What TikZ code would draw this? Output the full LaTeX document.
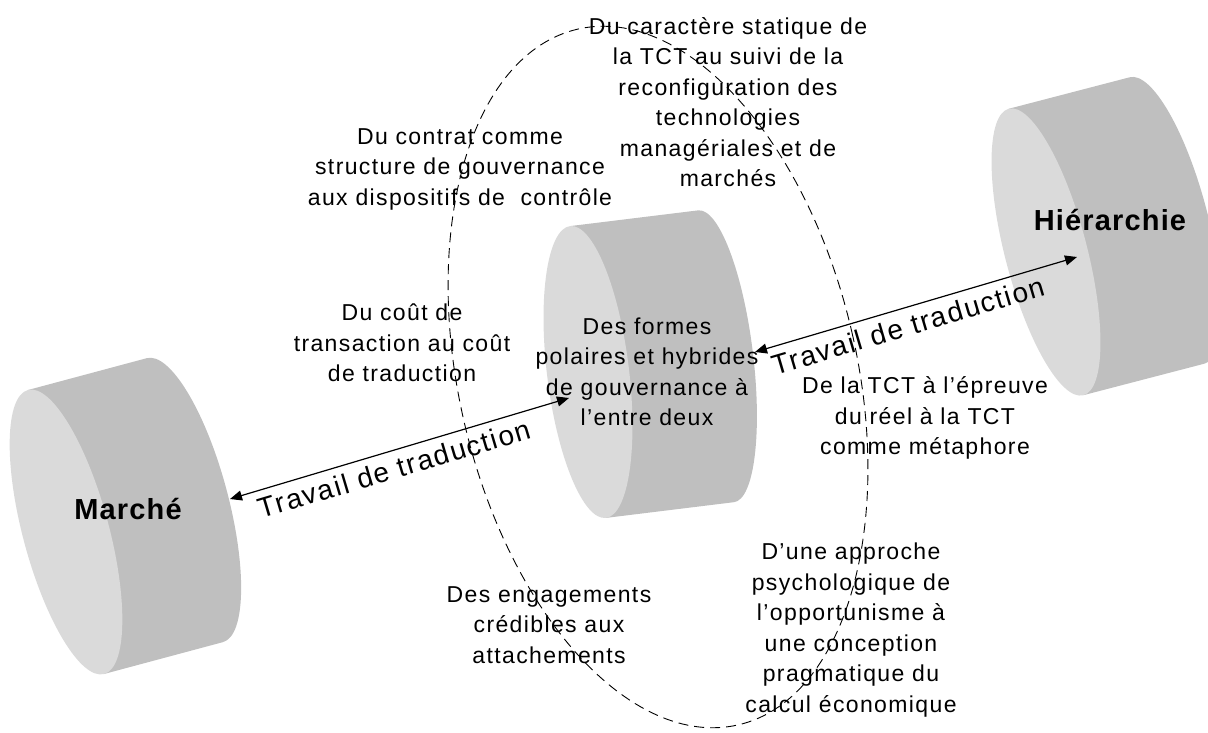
\documentclass[tikz,border=0pt]{standalone}
\usepackage{fontspec}
\setmainfont{Liberation Sans}[LetterSpace=6]
\usetikzlibrary{arrows.meta}
\definecolor{facegray}{RGB}{218,218,218}
\definecolor{bodygray}{RGB}{191,191,191}
\begin{document}
\begin{tikzpicture}[
        x=1pt, y=-1pt,
        body/.style={fill=bodygray, draw=none},
        face/.style={fill=facegray, draw=none},
        txt/.style={align=center, inner sep=0pt, font=\fontsize{23}{30.5}\selectfont},
        pole/.style={inner sep=0pt, font=\bfseries\addfontfeature{LetterSpace=4}\fontsize{29}{34}\selectfont},
        trad/.style={font=\fontsize{28}{32}\selectfont, sloped, below=4pt},
        arr/.style={{Triangle[length=12pt,width=10pt]}-{Triangle[length=12pt,width=10pt]}, line width=1.2pt},
        orbit/.style={dash pattern=on 10pt off 6pt, line width=0.9pt},
    ]
    \useasboundingbox (0,0) rectangle (1208,733);

    \begin{scope}[shift={(66,532)}, rotate=15]
        \fill[body] (0,147) -- (123,147) arc[start angle=90, end angle=-90, x radius=43, y radius=147] -- (0,-147) -- cycle;
        \fill[face] (0,0) ellipse [x radius=43, y radius=147];
    \end{scope}
    \begin{scope}[shift={(588,372)}, rotate=7]
        \fill[body] (0,147) -- (129,147) arc[start angle=90, end angle=-90, x radius=37, y radius=147] -- (0,-147) -- cycle;
        \fill[face] (0,0) ellipse [x radius=41, y radius=147];
    \end{scope}
    \begin{scope}[shift={(1046,252)}, rotate=14.6]
        \fill[body] (0,148) -- (125,148) arc[start angle=90, end angle=-90, x radius=41, y radius=148] -- (0,-148) -- cycle;
        \fill[face] (0,0) ellipse [x radius=41, y radius=148];
    \end{scope}

    \draw[orbit, rotate around={13:(658,377)}] (658,377) ellipse [x radius=199, y radius=357];

    \node[pole] (marche) at (128,509) {Marché};
    \node[pole] (hierarchie) at (1110,220) {Hiérarchie};
    \node[txt] (formes) at (647,372) {Des formes\\polaires et hybrides\\de gouvernance à\\l’entre deux};
    \node[txt] (statique) at (728,102) {Du caractère statique de\\la TCT au suivi de la\\reconfiguration des\\technologies\\managériales et de\\marchés};
    \node[txt] (contrat) at (460,169) {Du contrat comme\\structure de gouvernance\\aux dispositifs de\ \ contrôle};
    \node[txt] (cout) at (402,343) {Du coût de\\transaction au coût\\de traduction};
    \node[txt] (epreuve) at (925,418) {De la TCT à l’épreuve\\du réel à la TCT\\comme métaphore};
    \node[txt] (engagements) at (549,625) {Des engagements\\crédibles aux\\attachements};
    \node[txt] (approche) at (851,630) {D’une approche\\psychologique de\\l’opportunisme à\\une conception\\pragmatique du\\calcul économique};

    \coordinate (marche-in) at (230,499);
    \coordinate (formes-left) at (569,398);
    \coordinate (formes-right) at (755,352);
    \coordinate (hierarchie-in) at (1077,257);
    \draw[arr] (marche-in) -- node[trad, pos=0.47] (trad-bas) {Travail de traduction} (formes-left);
    \draw[arr] (formes-right) -- node[trad, pos=0.46] (trad-haut) {Travail de traduction} (hierarchie-in);
\end{tikzpicture}
\end{document}
